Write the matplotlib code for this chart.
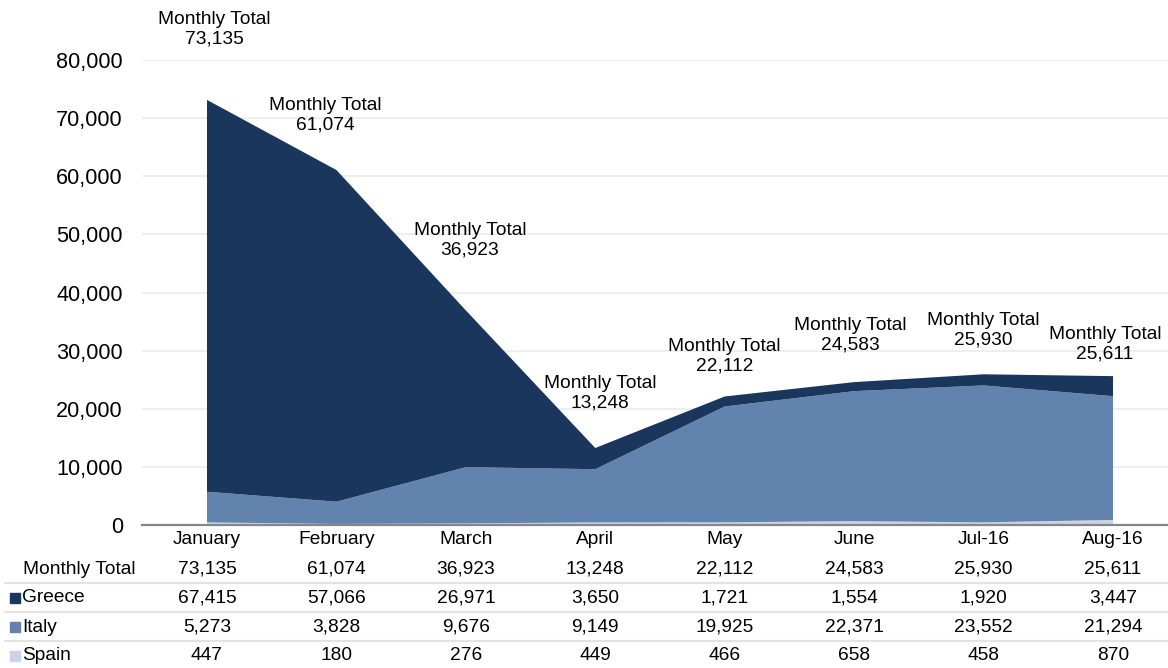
import numpy as np
import matplotlib
matplotlib.use("Agg")
from matplotlib import pyplot as plt
from matplotlib.ticker import FuncFormatter
from matplotlib.patches import Rectangle

plt.rcParams['font.family'] = ['Liberation Sans', 'DejaVu Sans']

# data
months = ["January", "February", "March", "April", "May", "June", "Jul-16", "Aug-16"]
greece = [67415, 57066, 26971, 3650, 1721, 1554, 1920, 3447]
italy = [5273, 3828, 9676, 9149, 19925, 22371, 23552, 21294]
spain = [447, 180, 276, 449, 466, 658, 458, 870]
totals = [73135, 61074, 36923, 13248, 22112, 24583, 25930, 25611]

series_names = ["Greece", "Italy", "Spain"]
colors = {"Greece": "#1b365d", "Italy": "#6283ad", "Spain": "#c9d4e4"}

# label nudges (pixels): dx, height of the label block centre above the point
lbl_dx = [7, -11, 4, 5, 0, -4, 0, -8]
lbl_dy = [71, 55, 70, 55, 40, 47, 44, 32]

W, H = 1168, 668
fig = plt.figure(figsize=(W / 100, H / 100), dpi=100)

# axes so that Jan sits at x=207px and Aug at 1113px, 0 at y=525px, 80000 at y=60px
step = (1113 - 207) / 7
left_px = 207 - 0.5 * step
xmax = (W - left_px) / step - 0.5
ax = fig.add_axes([left_px / W, (H - 525) / H, (W - left_px) / W, (525 - 60) / H])

x = np.arange(len(months))
ax.stackplot(x, spain, italy, greece,
             colors=[colors["Spain"], colors["Italy"], colors["Greece"]],
             linewidth=0, zorder=2)

ax.set_xlim(-0.5, xmax)
ax.set_ylim(0, 80000)
ax.set_yticks(np.arange(0, 80001, 10000))
ax.yaxis.set_major_formatter(FuncFormatter(lambda v, p: f"{int(v):,}"))
ax.tick_params(axis='y', length=0, pad=14, labelsize=15.6)
ax.set_xticks([])
ax.grid(axis='y', color='#ebebeb', linewidth=1.2, zorder=0)
for s in ["top", "right", "left"]:
    ax.spines[s].set_visible(False)
ax.spines["bottom"].set_color("#868686")
ax.spines["bottom"].set_linewidth(1.6)
ax.spines["bottom"].set_zorder(3)

# monthly total labels
for i, t in enumerate(totals):
    ax.annotate(f"Monthly Total\n{t:,}", xy=(i, t), xytext=(lbl_dx[i] * 0.72, lbl_dy[i] * 0.72),
                textcoords="offset points", ha="center", va="center",
                fontsize=13.8, linespacing=1.2, annotation_clip=False)

# data table under the chart
def fy(py):
    return (H - py) / H

fs = 13.8
for i, m in enumerate(months):
    xf = (207 + i * step) / W
    fig.text(xf, fy(540), m, ha="center", va="center", fontsize=fs)
    fig.text(xf, fy(569), f"{totals[i]:,}", ha="center", va="center", fontsize=fs)
    fig.text(xf, fy(598), f"{greece[i]:,}", ha="center", va="center", fontsize=fs)
    fig.text(xf, fy(627), f"{italy[i]:,}", ha="center", va="center", fontsize=fs)
    fig.text(xf, fy(656), f"{spain[i]:,}", ha="center", va="center", fontsize=fs)

fig.text(79 / W, fy(569), "Monthly Total", ha="center", va="center", fontsize=fs)
row_y = [598, 627, 656]
for name, py in zip(series_names, row_y):
    fig.patches.append(Rectangle((10 / W, (H - py - 5) / H), 10 / W, 10 / H,
                                 transform=fig.transFigure, color=colors[name]))
    fig.text(22 / W, fy(py), name, ha="left", va="center", fontsize=fs)

# row separators
for py in [583, 612, 641]:
    fig.add_artist(plt.Line2D([5 / W, 1.0], [fy(py), fy(py)], color="#e3e3e3",
                              linewidth=1.5, transform=fig.transFigure))

fig.savefig("out.png", dpi=100)
